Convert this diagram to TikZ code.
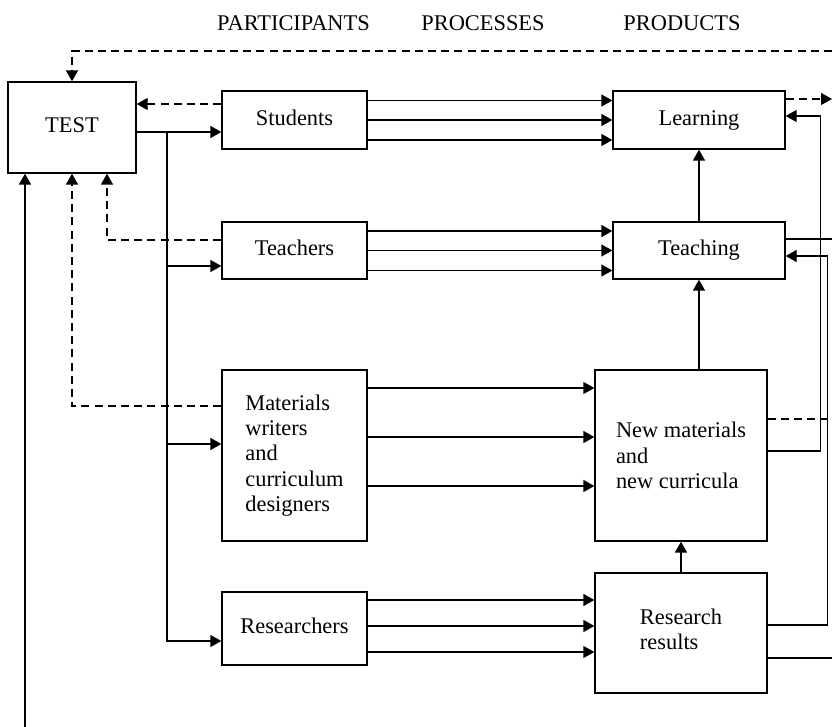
\documentclass[tikz,border=0pt]{standalone}
\usepackage{fontspec}
\setmainfont{Liberation Serif}
\usetikzlibrary{arrows.meta}
\begin{document}
\begin{tikzpicture}[x=0.5pt,y=-0.5pt,
    font=\fontsize{11.2}{12.6}\selectfont,
    line width=0.65pt,
    >={Triangle[length=5.5pt,width=6pt]},
    box/.style={draw,inner sep=0pt,align=left},
    onel/.style={text height=8pt,text depth=2.5pt},
    dsh/.style={dash pattern=on 4pt off 2.6pt}]
    \useasboundingbox (0,0) rectangle (832,727);
    %% column headings
    \node[anchor=base] (hpart) at (293.5,31) {PARTICIPANTS};
    \node[anchor=base] (hproc) at (483,31) {PROCESSES};
    \node[anchor=base] (hprod) at (682,31) {PRODUCTS};
    %% participants
    \node[box,onel,minimum width=64pt,minimum height=45.5pt] (test) at (72,127.5) {TEST};
    \node[box,onel,minimum width=72.5pt,minimum height=29pt] (students) at (294.5,120) {Students};
    \node[box,onel,minimum width=72.5pt,minimum height=28.5pt] (teachers) at (294.5,250.5) {Teachers};
    \node[box,minimum width=72.5pt,minimum height=85.5pt] (writers) at (294.5,455.5) {Materials\\writers\\and\\curriculum\\designers};
    \node[box,onel,minimum width=72.5pt,minimum height=36.5pt] (researchers) at (294.5,628.5) {Researchers};
    %% products
    \node[box,onel,minimum width=86pt,minimum height=29pt] (learning) at (699,120) {Learning};
    \node[box,onel,minimum width=86pt,minimum height=28.5pt] (teaching) at (699,250.5) {Teaching};
    \node[box,minimum width=86pt,minimum height=85.5pt] (materials) at (681,455.5) {New materials\\and\\new curricula};
    \node[box,minimum width=86pt,minimum height=60pt,text depth=3.5pt] (results) at (681,633) {Research\\results};
    %% free ends at the edges
    \coordinate (edge) at (832,0);
    \coordinate (topfb) at (832,51);
    \coordinate (lrnout) at (832,99);
    \coordinate (botfb) at (25,727);
    \coordinate (split) at (167,132);
    %% feedback to TEST
    \draw[dsh,->] (topfb) -| (test.north);
    \draw[dsh,->] (learning.east |- lrnout) -- (lrnout);
    \draw[->] (botfb) -- (botfb |- test.south);
    \draw[dsh,->] ([yshift=8pt]students.west) -- ([yshift=8pt]students.west -| test.east);
    \draw[dsh,->] ([yshift=5.25pt]teachers.west) -| ([xshift=17.5pt]test.south);
    \draw[dsh,->] ([yshift=24.75pt]writers.west) -| (test.south);
    %% TEST to participants
    \draw[->] (split -| test.east) -- (split -| students.west);
    \draw[->] (split) |- ([yshift=-6.25pt]researchers.west);
    \draw[<-] ([yshift=-7.75pt]teachers.west) -- ++(-27.5pt,0);
    \draw[<-] ([yshift=5.75pt]writers.west) -- ++(-27.5pt,0);
    %% processes
    \foreach \d in {9.75pt,0pt,-10pt}{
        \draw[->] ([yshift=\d]students.east) -- ([yshift=\d]students.east -| learning.west);
        \draw[->] ([yshift=\d]teachers.east) -- ([yshift=\d]teachers.east -| teaching.west);
    }
    \foreach \d in {33.75pt,9.25pt,-15.25pt}
        \draw[->] ([yshift=\d]writers.east) -- ([yshift=\d]writers.east -| materials.west);
    \foreach \d in {14.25pt,1.25pt,-11.75pt}
        \draw[->] ([yshift=\d]researchers.east) -- ([yshift=\d]researchers.east -| results.west);
    %% between products
    \draw[->] (teaching.north) -- (learning.south);
    \draw[->] (materials.north -| teaching.south) -- (teaching.south);
    \draw[->] (results.north) -- (materials.south);
    \draw[->] ([yshift=2.25pt]materials.east) -- ++(26.5pt,0) |- ([yshift=2pt]learning.east);
    \draw[->] ([yshift=4pt]results.east) -- ++(30pt,0) |- ([yshift=-2.75pt]teaching.east);
    \draw ([yshift=5.75pt]teaching.east) -- ([yshift=5.75pt]teaching.east -| edge);
    \draw[dsh] ([yshift=18.25pt]materials.east) -- ([yshift=18.25pt]materials.east -| edge);
    \draw ([yshift=-12.5pt]results.east) -- ([yshift=-12.5pt]results.east -| edge);
\end{tikzpicture}
\end{document}
